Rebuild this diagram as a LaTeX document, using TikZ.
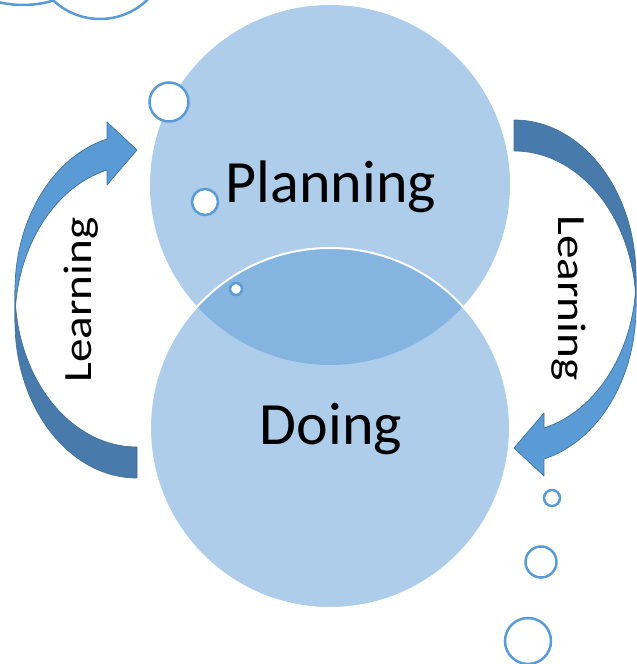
\documentclass[tikz,border=0pt]{standalone}
\usepackage{fontspec}
\setmainfont{Carlito}
\usepackage{tikz}
\definecolor{officeblue}{RGB}{91,155,213}
\definecolor{arrowdark}{RGB}{72,122,172}
\definecolor{arrowline}{RGB}{65,113,156}
\tikzset{
	bigdisc/.style={fill=officeblue, fill opacity=0.5},
	ring/.style={draw=officeblue, line width=2.5pt, fill=white},
	arrowfront/.style={fill=officeblue, draw=arrowline, line width=0.7pt, line join=round},
	arrowback/.style={fill=arrowdark, draw=arrowline, line width=0.7pt, line join=round},
	bigtext/.style={font=\fontsize{60}{72}\selectfont, inner sep=0pt},
	sidetext/.style={font=\fontsize{40}{48}\selectfont, inner sep=0pt}
}
% curved arrow: back half from the bottom band, front half up to the head
\def\learnarrow{
	\filldraw[arrowback] (15, 342.4) arc[start angle=180, end angle=270, x radius=122, y radius=156.4] -- (137, 217) arc[start angle=270, end angle=180, x radius=122, y radius=156.4] -- cycle;
	\filldraw[arrowfront] (15, 373.4) arc[start angle=180, end angle=104.2, x radius=122, y radius=156.4] -- (107, 542) -- (137, 514) -- (107, 479) -- (107, 494) arc[start angle=104.2, end angle=180, x radius=122, y radius=156.4] -- cycle;
}

\begin{document}
\begin{tikzpicture}[x=1pt, y=1pt]
			%%%%% START %%%%%
			\useasboundingbox (0, 0) rectangle (637, 664);
			\clip (0, 0) rectangle (637, 664);
			
			\draw[ring] (23, 764) circle (105);
			\draw[ring] (100, 713) circle (68);
			
			\learnarrow
			\begin{scope}[rotate around={180:(325.5, 365)}]
				\learnarrow
			\end{scope}
			
			\fill[bigdisc] (330, 479) circle (180);
			\filldraw[bigdisc, draw=white, draw opacity=1, line width=2pt] (330, 236) circle (180);
			
			\node[bigtext, anchor=base] (planning) at (331, 461) {Planning};
			\node[bigtext, anchor=base] (doing) at (331, 219) {Doing};
			\node[sidetext, rotate=90, anchor=base] (learnleft) at (91, 364) {\scalebox{1.18}[1]{Learning}};
			\node[sidetext, rotate=-90, anchor=base] (learnright) at (558, 366) {\scalebox{1.18}[1]{Learning}};
			
			\draw[ring] (169, 562) circle (19.5);
			\draw[ring] (205, 462) circle (13);
			\draw[ring] (236, 375) circle (6);
			\draw[ring] (552, 166) circle (8);
			\draw[ring] (541, 102) circle (15.5);
			\draw[ring] (528, 23) circle (23);
			%%%%% END %%%%%
\end{tikzpicture}
\end{document}
